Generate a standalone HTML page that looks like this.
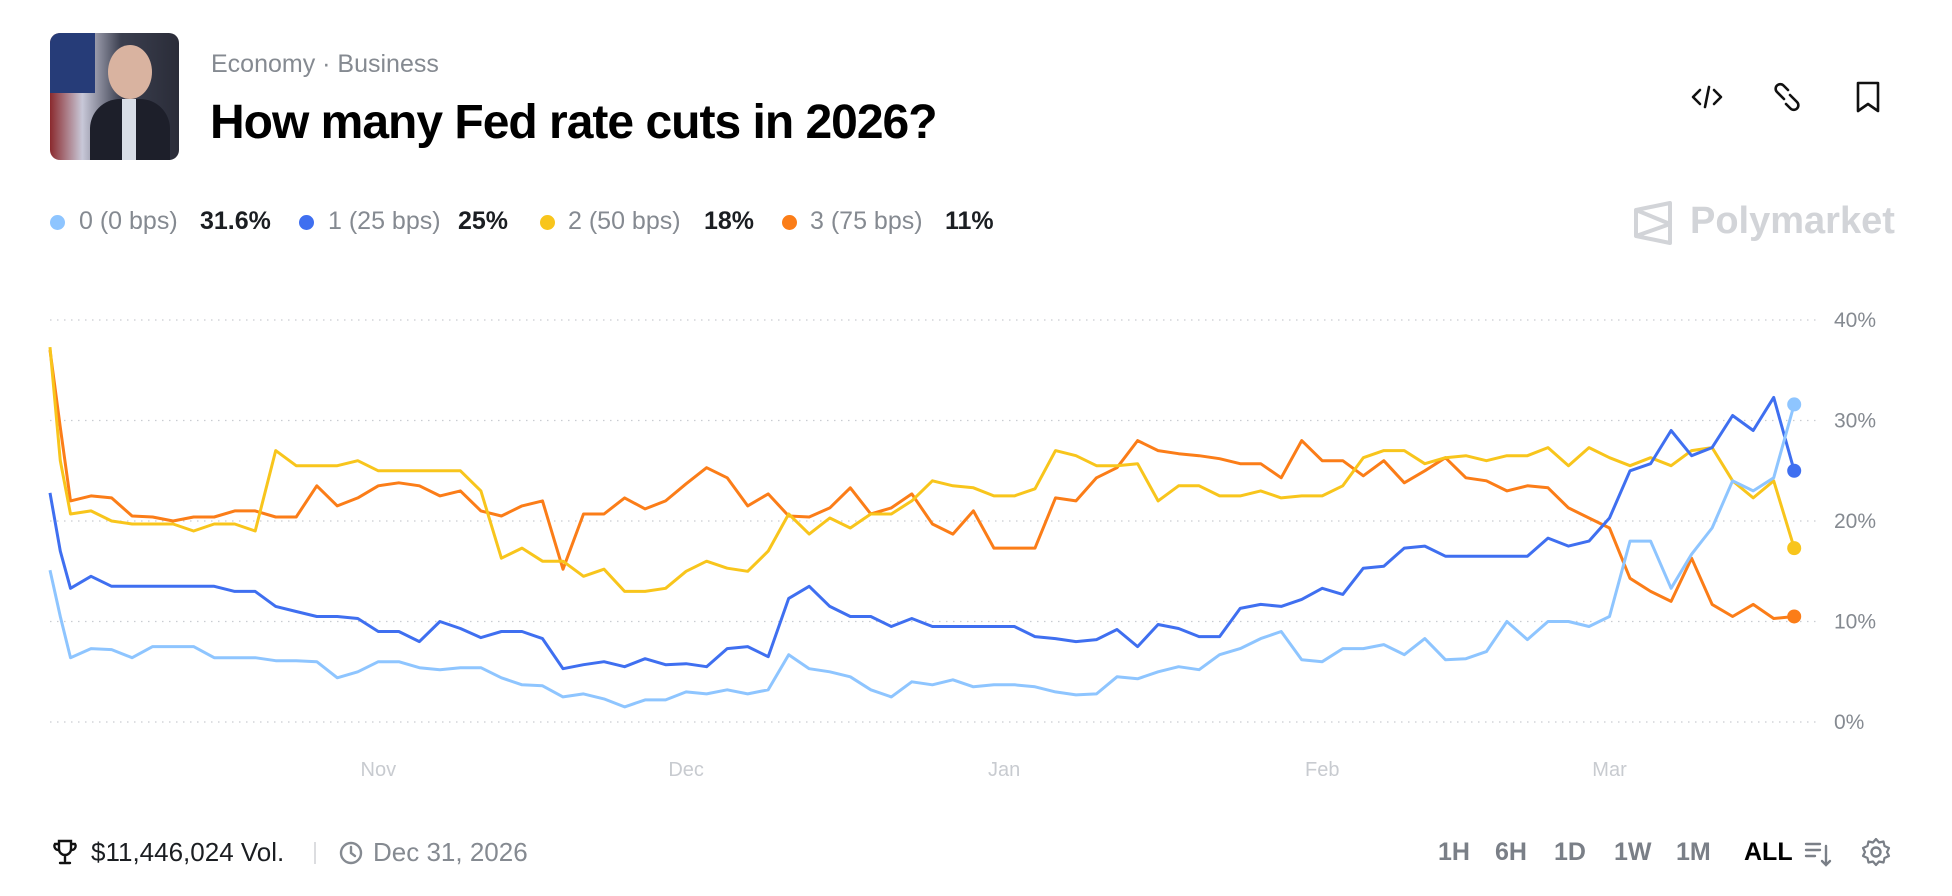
<!DOCTYPE html>
<html><head><meta charset="utf-8">
<style>
html,body{margin:0;padding:0;background:#fff;}
body{width:1952px;height:896px;position:relative;overflow:hidden;font-family:"Liberation Sans",sans-serif;}
.abs{position:absolute;white-space:nowrap;}
.cat{left:211px;top:50px;font-size:25px;color:#858a91;}
.title{left:210px;top:95px;font-size:48px;font-weight:bold;color:#000;letter-spacing:-1px;}
.leg{top:207px;font-size:25px;color:#858a91;}
.legv{top:207px;font-size:25px;color:#1b1e22;font-weight:bold;}
.dot{position:absolute;top:215px;width:15px;height:15px;border-radius:50%;}
.ft{top:837px;font-size:26px;}
.rng{top:838px;font-size:25px;color:#7a7f87;font-weight:bold;}
</style></head>
<body>
<div class="abs" style="left:50px;top:33px;width:129px;height:127px;border-radius:10px;overflow:hidden;background:linear-gradient(90deg,#8a2a2e 0%,#c8c8d8 25%,#3b3f4f 55%,#2a2c38 100%);">
 <div style="position:absolute;left:0;top:0;width:45px;height:60px;background:#263c78;"></div>
 <div style="position:absolute;left:58px;top:12px;width:44px;height:54px;border-radius:50%;background:#d9b3a0;"></div>
 <div style="position:absolute;left:40px;top:66px;width:80px;height:70px;border-radius:30px 30px 0 0;background:#1d1f2a;"></div>
 <div style="position:absolute;left:72px;top:66px;width:14px;height:61px;background:#d8dde6;"></div>
</div>
<div class="abs cat">Economy · Business</div>
<div class="abs title">How many Fed rate cuts in 2026?</div>

<svg class="abs" style="left:1690px;top:80px" width="34" height="34" viewBox="0 0 34 34"><path d="M10 10 L3 17 L10 24 M24 10 L31 17 L24 24 M19 7 L15 27" stroke="#111" stroke-width="2.6" fill="none" stroke-linecap="round" stroke-linejoin="round"/></svg>
<svg class="abs" style="left:1770px;top:80px" width="34" height="34" viewBox="0 0 34 34"><path d="M14 19 L7 12 a4.5 4.5 0 0 1 6.5-6.5 L18 10 M20 15 L27 22 a4.5 4.5 0 0 1 -6.5 6.5 L16 24" stroke="#111" stroke-width="2.6" fill="none" stroke-linecap="round"/></svg>
<svg class="abs" style="left:1852px;top:79px" width="32" height="36" viewBox="0 0 32 36"><path d="M6 4 H26 V32 L16 25 L6 32 Z" stroke="#111" stroke-width="2.6" fill="none" stroke-linejoin="round"/></svg>

<span class="dot" style="left:50px;background:#8ec5ff"></span>
<div class="abs leg" style="left:79px">0 (0 bps)</div>
<div class="abs legv" style="left:200px">31.6%</div>
<span class="dot" style="left:299px;background:#3f6ff0"></span>
<div class="abs leg" style="left:328px">1 (25 bps)</div>
<div class="abs legv" style="left:458px">25%</div>
<span class="dot" style="left:540px;background:#f8c51c"></span>
<div class="abs leg" style="left:568px">2 (50 bps)</div>
<div class="abs legv" style="left:704px">18%</div>
<span class="dot" style="left:782px;background:#fb7d18"></span>
<div class="abs leg" style="left:810px">3 (75 bps)</div>
<div class="abs legv" style="left:945px">11%</div>

<svg class="abs" style="left:1632px;top:200px" width="44" height="46" viewBox="0 0 44 46"><path d="M4 10 L38 3 V43 L4 36 Z M4 10 L38 24 L4 36" stroke="#d2d4d8" stroke-width="4" fill="none" stroke-linejoin="round"/></svg>
<div class="abs" style="left:1690px;top:200px;font-size:38px;font-weight:bold;color:#d2d4d8">Polymarket</div>

<svg id="chart" class="abs" style="left:0;top:0" width="1952" height="896"></svg>

<svg class="abs" style="left:52px;top:838px" width="26" height="28" viewBox="0 0 26 28"><path d="M7 3 H19 V11 a6 6 0 0 1 -12 0 Z M7 6 H3 a4 4 0 0 0 4 6 M19 6 H23 a4 4 0 0 1 -4 6 M13 17 V23 M8 25 H18" stroke="#111" stroke-width="2.4" fill="none" stroke-linecap="round"/></svg>
<div class="abs ft" style="left:91px;color:#1b1e22">$11,446,024 Vol.</div>
<div class="abs" style="left:314px;top:842px;width:1.5px;height:22px;background:#dcdde0"></div>
<svg class="abs" style="left:338px;top:840px" width="26" height="26" viewBox="0 0 26 26"><circle cx="13" cy="13" r="10" stroke="#858a91" stroke-width="2.4" fill="none"/><path d="M13 7 V13 L17 16" stroke="#858a91" stroke-width="2.4" fill="none" stroke-linecap="round"/></svg>
<div class="abs ft" style="left:373px;color:#858a91">Dec 31, 2026</div>

<div class="abs rng" style="left:1438px">1H</div>
<div class="abs rng" style="left:1495px">6H</div>
<div class="abs rng" style="left:1554px">1D</div>
<div class="abs rng" style="left:1614px">1W</div>
<div class="abs rng" style="left:1676px">1M</div>
<div class="abs rng" style="left:1744px;color:#000">ALL</div>
<svg class="abs" style="left:1803px;top:838px" width="30" height="32" viewBox="0 0 30 32"><path d="M3 6 H17 M3 12 H17 M3 18 H12 M23 8 V27 M19 23 L23 27 L27 23" stroke="#7a7f87" stroke-width="2.4" fill="none" stroke-linecap="round"/></svg>
<svg class="abs" style="left:1860px;top:836px" width="32" height="32" viewBox="0 0 32 32"><circle cx="16" cy="16" r="4.5" stroke="#7a7f87" stroke-width="2.4" fill="none"/><path d="M16 3 L19 6.5 L23.5 5.5 L24.5 10 L29 12 L27 16 L29 20 L24.5 22 L23.5 26.5 L19 25.5 L16 29 L13 25.5 L8.5 26.5 L7.5 22 L3 20 L5 16 L3 12 L7.5 10 L8.5 5.5 L13 6.5 Z" stroke="#7a7f87" stroke-width="2.2" fill="none" stroke-linejoin="round"/></svg>

<script>
const days = [0,1,2,4,6,8,10,12,14,16,18,20,22,24,26,28,30,32,34,36,38,40,42,44,46,48,50,52,54,56,58,60,62,64,66,68,70,72,74,76,78,80,82,84,86,88,90,92,94,96,98,100,102,104,106,108,110,112,114,116,118,120,122,124,126,128,130,132,134,136,138,140,142,144,146,148,150,152,154,156,158,160,162,164,166,168,170];
const series0 = [15.1,10.5,6.4,7.3,7.2,6.4,7.5,7.5,7.5,6.4,6.4,6.4,6.1,6.1,6,4.4,5,6,6,5.4,5.2,5.4,5.4,4.4,3.7,3.6,2.5,2.8,2.3,1.5,2.2,2.2,3,2.8,3.2,2.8,3.2,6.7,5.3,5,4.5,3.2,2.5,4,3.7,4.2,3.5,3.7,3.7,3.5,3,2.7,2.8,4.5,4.3,5,5.5,5.2,6.7,7.3,8.3,9,6.2,6,7.3,7.3,7.7,6.7,8.3,6.2,6.3,7,10,8.2,10,10,9.5,10.5,18,18,13.3,16.7,19.3,24,23,24.3,31.6];
const series1 = [22.8,17,13.3,14.5,13.5,13.5,13.5,13.5,13.5,13.5,13,13,11.5,11,10.5,10.5,10.3,9,9,8,10,9.3,8.4,9,9,8.3,5.3,5.7,6,5.5,6.3,5.7,5.8,5.5,7.3,7.5,6.5,12.3,13.5,11.5,10.5,10.5,9.5,10.3,9.5,9.5,9.5,9.5,9.5,8.5,8.3,8,8.2,9.2,7.5,9.7,9.3,8.5,8.5,11.3,11.7,11.5,12.2,13.3,12.7,15.3,15.5,17.3,17.5,16.5,16.5,16.5,16.5,16.5,18.3,17.5,18,20.3,25,25.7,29,26.5,27.3,30.5,29,32.3,25];
const series2 = [37.3,26,20.7,21,20,19.7,19.7,19.7,19,19.7,19.7,19,27,25.5,25.5,25.5,26,25,25,25,25,25,23,16.3,17.3,16,16,14.5,15.2,13,13,13.3,15,16,15.3,15,17,20.7,18.7,20.3,19.3,20.7,20.7,22,24,23.5,23.3,22.5,22.5,23.2,27,26.5,25.5,25.5,25.7,22,23.5,23.5,22.5,22.5,23,22.3,22.5,22.5,23.5,26.3,27,27,25.7,26.3,26.5,26,26.5,26.5,27.3,25.5,27.3,26.3,25.5,26.3,25.5,27,27.3,24,22.3,24,17.3];
const series3 = [37,29.3,22,22.5,22.3,20.5,20.4,20,20.4,20.4,21,21,20.4,20.4,23.5,21.5,22.3,23.5,23.8,23.5,22.5,23,21,20.5,21.5,22,15.2,20.7,20.7,22.3,21.2,22,23.7,25.3,24.3,21.5,22.7,20.5,20.4,21.3,23.3,20.7,21.3,22.7,19.7,18.7,21,17.3,17.3,17.3,22.3,22,24.3,25.3,28,27,26.7,26.5,26.2,25.7,25.7,24.3,28,26,26,24.5,26,23.8,25,26.3,24.3,24,23,23.5,23.3,21.3,20.3,19.3,14.3,13,12,16.3,11.7,10.5,11.7,10.3,10.5];
const seriesColors = ["#8ec5ff","#3f6ff0","#f8c51c","#fb7d18"];
const yTicks = [0,10,20,30,40];
const yTickLabels = ["0%","10%","20%","30%","40%"];
const monthDays = [32,62,93,124,152];
const monthLabels = ["Nov","Dec","Jan","Feb","Mar"];

const NS = "http://www.w3.org/2000/svg";
const svg = document.getElementById("chart");
function xScale(d){ return 50 + d * 10.26; }
function yScale(v){ return 722 - v * 10.05; }

yTicks.forEach((t,i)=>{
  const ln = document.createElementNS(NS,"line");
  
  
  ln.setAttribute("x1",50); ln.setAttribute("x2",1820);
  ln.setAttribute("y1",yScale(t)); ln.setAttribute("y2",yScale(t));
  ln.setAttribute("stroke","#c9ccd1"); ln.setAttribute("stroke-width","1.3");
  ln.setAttribute("stroke-dasharray","1.5 5.5");
  svg.appendChild(ln);
  const tx = document.createElementNS(NS,"text");
  
  
  tx.setAttribute("x",1834); tx.setAttribute("y",yScale(t)+7);
  tx.setAttribute("font-size","21"); tx.setAttribute("fill","#858a91");
  tx.setAttribute("font-family","Liberation Sans, sans-serif");
  tx.textContent = yTickLabels[i];
  svg.appendChild(tx);
});
monthDays.forEach((d,i)=>{
  const tx = document.createElementNS(NS,"text");
  
  
  tx.setAttribute("x",xScale(d)); tx.setAttribute("y",776);
  tx.setAttribute("text-anchor","middle");
  tx.setAttribute("font-size","20"); tx.setAttribute("fill","#c8cbd0");
  tx.setAttribute("font-family","Liberation Sans, sans-serif");
  tx.textContent = monthLabels[i];
  svg.appendChild(tx);
});
const allSeries = [series0,series1,series2,series3];
const order = [3,2,1,0];
order.forEach(k=>{
  const vals = allSeries[k];
  let dstr = "";
  vals.forEach((v,i)=>{ dstr += (i?"L":"M") + xScale(days[i]).toFixed(1) + " " + yScale(v).toFixed(1) + " "; });
  const p = document.createElementNS(NS,"path");
  
  
  p.setAttribute("d",dstr); p.setAttribute("fill","none");
  p.setAttribute("stroke",seriesColors[k]); p.setAttribute("stroke-width","3");
  p.setAttribute("stroke-linejoin","round");
  svg.appendChild(p);
});
order.forEach(k=>{
  const vals = allSeries[k];
  const n = vals.length-1;
  const c = document.createElementNS(NS,"circle");
  
  
  c.setAttribute("cx",xScale(days[n])); c.setAttribute("cy",yScale(vals[n]));
  c.setAttribute("r","7"); c.setAttribute("fill",seriesColors[k]);
  svg.appendChild(c);
});
</script>
</body></html>
